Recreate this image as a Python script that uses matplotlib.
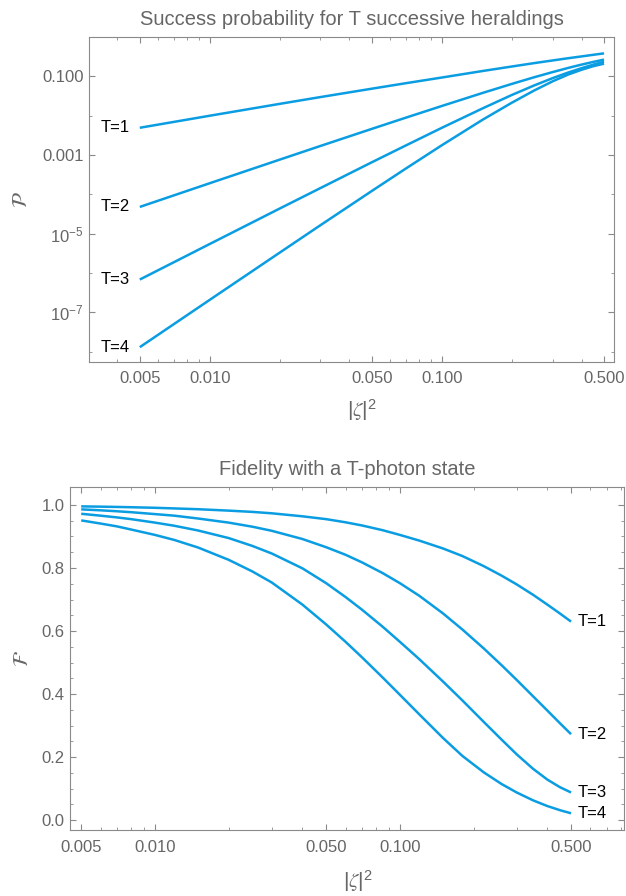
import matplotlib
matplotlib.use("Agg")
import matplotlib.pyplot as plt
from matplotlib.ticker import FixedLocator, FixedFormatter, NullFormatter

plt.rcParams["font.family"] = ["Liberation Sans", "DejaVu Sans"]
plt.rcParams["mathtext.fontset"] = "stix"

# --- data ---
# top panel: success probability (log-log)
zeta_sq_p = [0.005, 0.01, 0.02, 0.03, 0.05, 0.07, 0.1, 0.15, 0.2, 0.25,
             0.3, 0.35, 0.4, 0.45, 0.5]
prob_T1 = [4.9e-3, 9.9e-3, 1.98e-2, 2.95e-2, 4.82e-2, 6.64e-2, 9.25e-2, 0.1356,
           0.176, 0.215, 0.251, 0.286, 0.318, 0.350, 0.380]
prob_T2 = [4.78e-5, 1.91e-4, 7.57e-4, 1.69e-3, 4.60e-3, 8.84e-3, 1.75e-2, 3.76e-2,
           6.35e-2, 9.40e-2, 0.127, 0.162, 0.197, 0.231, 0.264]
prob_T3 = [6.84e-7, 5.46e-6, 4.33e-5, 1.44e-4, 6.53e-4, 1.74e-3, 4.88e-3, 1.525e-2,
           3.32e-2, 5.82e-2, 8.91e-2, 0.1237, 0.160, 0.197, 0.234]
prob_T4 = [1.31e-8, 2.08e-7, 3.28e-6, 1.64e-5, 1.22e-4, 4.51e-4, 1.76e-3, 7.85e-3,
           2.11e-2, 4.33e-2, 7.39e-2, 0.110, 0.1457, 0.180, 0.208]

# bottom panel: fidelity (log x)
zeta_sq_f = [0.005, 0.006, 0.007, 0.008, 0.01, 0.012, 0.015, 0.02, 0.025, 0.03,
             0.04, 0.05, 0.06, 0.07, 0.085, 0.1, 0.12, 0.15, 0.18, 0.22,
             0.26, 0.3, 0.35, 0.4, 0.45, 0.5]
fid_T1 = [0.9955, 0.9946, 0.9937, 0.9928, 0.991, 0.989, 0.9865, 0.982, 0.978, 0.9735,
          0.964, 0.955, 0.945, 0.935, 0.920, 0.905, 0.887, 0.862, 0.838, 0.806,
          0.776, 0.748, 0.715, 0.684, 0.656, 0.630]
fid_T2 = [0.986, 0.983, 0.980, 0.977, 0.971, 0.966, 0.957, 0.944, 0.931, 0.918,
          0.892, 0.866, 0.842, 0.818, 0.784, 0.752, 0.712, 0.656, 0.605, 0.545,
          0.492, 0.445, 0.393, 0.348, 0.308, 0.273]
fid_T3 = [0.972, 0.966, 0.9605, 0.955, 0.944, 0.934, 0.919, 0.895, 0.870, 0.846,
          0.799, 0.752, 0.708, 0.668, 0.614, 0.566, 0.511, 0.440, 0.380, 0.312,
          0.256, 0.209, 0.163, 0.129, 0.105, 0.088]
fid_T4 = [0.951, 0.941, 0.932, 0.922, 0.905, 0.889, 0.865, 0.826, 0.789, 0.754,
          0.684, 0.621, 0.566, 0.517, 0.453, 0.398, 0.336, 0.261, 0.204, 0.152,
          0.115, 0.088, 0.063, 0.045, 0.032, 0.022]

curve_labels = ["T=1", "T=2", "T=3", "T=4"]

x_major = [0.005, 0.01, 0.05, 0.1, 0.5]
x_major_labels = ["0.005", "0.010", "0.050", "0.100", "0.500"]
x_minor = [0.004, 0.006, 0.007, 0.008, 0.009, 0.02, 0.03, 0.04,
           0.06, 0.07, 0.08, 0.09, 0.2, 0.3, 0.4, 0.6, 0.7, 0.8]

p_major = [1e-1, 1e-3, 1e-5, 1e-7]
p_major_labels = ["0.100", "0.001", r"$\mathregular{10^{-5}}$", r"$\mathregular{10^{-7}}$"]
p_minor = [1e-2, 1e-4, 1e-6, 1e-8]

f_major = [0.0, 0.2, 0.4, 0.6, 0.8, 1.0]
f_major_labels = ["0.0", "0.2", "0.4", "0.6", "0.8", "1.0"]
f_minor = [0.05, 0.1, 0.15, 0.25, 0.3, 0.35, 0.45, 0.5, 0.55,
           0.65, 0.7, 0.75, 0.85, 0.9, 0.95]

LINE_COLOR = "#0a9de2"
FRAME_COLOR = "#8a8a8a"
TEXT_COLOR = "#666666"
TICK_FONT = 12
TITLE_FONT = 14.5
XLABEL = r"$\mathregular{|}\zeta\mathregular{|^2}$"
W, H = 626, 896


def style_frame(ax, xmaj, xlab, ymaj, ylab, xmin, ymin):
    for s in ax.spines.values():
        s.set_color(FRAME_COLOR)
        s.set_linewidth(0.8)
    ax.xaxis.set_major_locator(FixedLocator(xmaj))
    ax.xaxis.set_major_formatter(FixedFormatter(xlab))
    ax.xaxis.set_minor_locator(FixedLocator(xmin))
    ax.xaxis.set_minor_formatter(NullFormatter())
    ax.yaxis.set_major_locator(FixedLocator(ymaj))
    ax.yaxis.set_major_formatter(FixedFormatter(ylab))
    ax.yaxis.set_minor_locator(FixedLocator(ymin))
    ax.yaxis.set_minor_formatter(NullFormatter())
    ax.tick_params(which="both", direction="in", top=True, right=True,
                   color=FRAME_COLOR, labelcolor=TEXT_COLOR, labelsize=TICK_FONT)
    ax.tick_params(which="major", length=4.5, width=0.8)
    ax.tick_params(which="minor", length=2.5, width=0.6)
    ax.tick_params(axis="x", which="major", pad=7)
    ax.tick_params(axis="y", which="major", pad=4)


def px_axes(fig, left, top, right, bottom):
    return fig.add_axes([left / W, 1 - bottom / H, (right - left) / W, (bottom - top) / H])


def main():
    fig = plt.figure(figsize=(W / 100, H / 100), dpi=100)

    # ---- top: success probability ----
    ax = px_axes(fig, 89.3, 37.3, 614, 361.7)
    for ys, lab in zip([prob_T1, prob_T2, prob_T3, prob_T4], curve_labels):
        ax.plot(zeta_sq_p, ys, color=LINE_COLOR, lw=1.8, solid_capstyle="butt")
        ax.annotate(lab, xy=(zeta_sq_p[0], ys[0]), xytext=(-7, 0),
                    textcoords="offset points", ha="right", va="center",
                    fontsize=12, color="black")
    ax.set_xscale("log")
    ax.set_yscale("log")
    ax.set_xlim(0.00303, 0.552)
    ax.set_ylim(5.6e-9, 0.973)
    style_frame(ax, x_major, x_major_labels, p_major, p_major_labels, x_minor, p_minor)
    ax.set_title("Success probability for T successive heraldings",
                 fontsize=TITLE_FONT, color=TEXT_COLOR, pad=9)
    ax.text(0.52, -0.15, XLABEL, transform=ax.transAxes, ha="center",
            va="center", fontsize=15, color=TEXT_COLOR)
    ax.text(-0.13, 0.5, r"$\mathcal{P}$", transform=ax.transAxes, ha="center",
            va="center", fontsize=15, color=TEXT_COLOR, rotation=90)

    # ---- bottom: fidelity ----
    ax = px_axes(fig, 70, 487.3, 624.3, 830)
    for ys, lab in zip([fid_T1, fid_T2, fid_T3, fid_T4], curve_labels):
        ax.plot(zeta_sq_f, ys, color=LINE_COLOR, lw=1.8, solid_capstyle="butt")
        ax.annotate(lab, xy=(zeta_sq_f[-1], ys[-1]), xytext=(5, 0),
                    textcoords="offset points", ha="left", va="center",
                    fontsize=12, color="black")
    ax.set_xscale("log")
    ax.set_xlim(0.0045, 0.825)
    ax.set_ylim(-0.031, 1.056)
    style_frame(ax, x_major, x_major_labels, f_major, f_major_labels, x_minor, f_minor)
    ax.set_title("Fidelity with a T-photon state",
                 fontsize=TITLE_FONT, color=TEXT_COLOR, pad=9)
    ax.text(0.52, -0.148, XLABEL, transform=ax.transAxes, ha="center",
            va="center", fontsize=15, color=TEXT_COLOR)
    ax.text(-0.085, 0.5, r"$\mathcal{F}$", transform=ax.transAxes, ha="center",
            va="center", fontsize=15, color=TEXT_COLOR, rotation=90)

    fig.savefig("out.png", dpi=100)
    plt.close(fig)


if __name__ == "__main__":
    main()
